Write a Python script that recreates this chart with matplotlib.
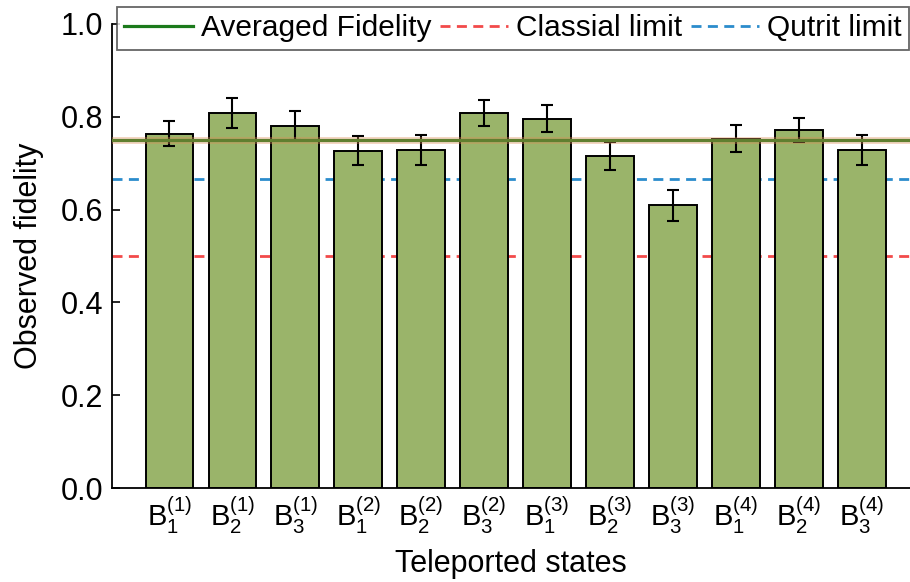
import numpy as np
import matplotlib
matplotlib.use('Agg')
import matplotlib.pyplot as plt

plt.rcParams['font.family'] = ['Liberation Sans', 'DejaVu Sans']
plt.rcParams['mathtext.fontset'] = 'custom'
plt.rcParams['mathtext.rm'] = 'Liberation Sans'
plt.rcParams['mathtext.it'] = 'Liberation Sans'

# data
labels = [r'$\mathrm{B}_1^{(1)}$', r'$\mathrm{B}_2^{(1)}$', r'$\mathrm{B}_3^{(1)}$',
          r'$\mathrm{B}_1^{(2)}$', r'$\mathrm{B}_2^{(2)}$', r'$\mathrm{B}_3^{(2)}$',
          r'$\mathrm{B}_1^{(3)}$', r'$\mathrm{B}_2^{(3)}$', r'$\mathrm{B}_3^{(3)}$',
          r'$\mathrm{B}_1^{(4)}$', r'$\mathrm{B}_2^{(4)}$', r'$\mathrm{B}_3^{(4)}$']
fidelity = [0.763, 0.808, 0.781, 0.727, 0.728, 0.808,
            0.796, 0.716, 0.609, 0.753, 0.772, 0.729]
errors = [0.027, 0.033, 0.031, 0.031, 0.032, 0.028,
          0.029, 0.030, 0.034, 0.029, 0.026, 0.032]
avg_fidelity = 0.749
avg_error = 0.008
classical_limit = 0.5
qutrit_limit = 2 / 3

fig = plt.figure(figsize=(9.1, 5.82), dpi=100)
ax = fig.add_axes([0.123, 0.1615, 0.877, 0.7973])

x = np.arange(1, len(fidelity) + 1)
ax.bar(x, fidelity, width=0.755, color='#9ab46a', edgecolor='black', linewidth=1.4,
       yerr=errors, capsize=4.4, error_kw=dict(elinewidth=1.5, capthick=1.5, ecolor='black'),
       zorder=2)

# averaged fidelity with its uncertainty band drawn on top
ax.axhline(avg_fidelity, color='#1b7a1b', lw=2.3, zorder=4, label='Averaged Fidelity')
ax.fill_between([0, 14], avg_fidelity - avg_error, avg_fidelity + avg_error,
                color='#e08a55', alpha=0.35, lw=0, zorder=5)
ax.axhline(classical_limit, color='#f24a4a', lw=2, dashes=(3.6, 2.3), zorder=1,
           label='Classial limit')
ax.axhline(qutrit_limit, color='#2b8ccc', lw=2, dashes=(3.6, 2.3), zorder=1,
           label='Qutrit limit')

ax.set_xlim(0.088, 12.766)
ax.set_ylim(0, 1.0)
ax.set_yticks([0, 0.2, 0.4, 0.6, 0.8, 1.0])
ax.set_yticklabels(['0.0', '0.2', '0.4', '0.6', '0.8', '1.0'])
ax.set_xticks(x)
ax.set_xticklabels(labels)
ax.tick_params(axis='y', direction='in', length=6, width=1.2, labelsize=22, pad=6)
ax.tick_params(axis='x', length=0, labelsize=21, pad=5)

ax.spines['top'].set_visible(False)
ax.spines['right'].set_visible(False)
ax.spines['left'].set_linewidth(1.3)
ax.spines['bottom'].set_linewidth(1.3)

ax.set_ylabel('Observed fidelity', fontsize=22, labelpad=12)
ax.set_xlabel('Teleported states', fontsize=22, labelpad=9)

leg = ax.legend(loc='upper left', bbox_to_anchor=(117 / 910, 1 - 7 / 582),
                bbox_transform=fig.transFigure, ncol=3, fontsize=21.5, frameon=True,
                fancybox=False, handlelength=2.3, handletextpad=0.26,
                columnspacing=0.28, borderpad=0.25, borderaxespad=0)
leg.get_frame().set_edgecolor('#404040')
leg.get_frame().set_linewidth(1.3)

fig.savefig('out.png', dpi=100)
